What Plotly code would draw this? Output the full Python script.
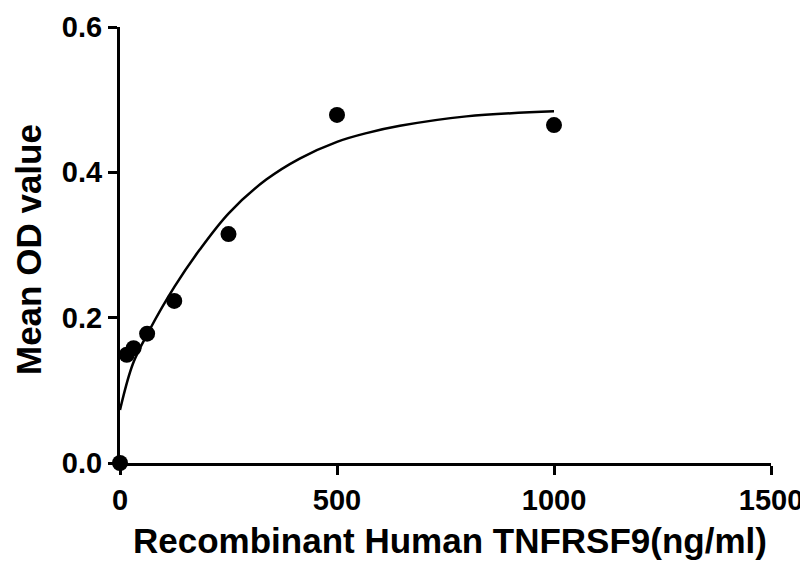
import plotly.graph_objects as go

# Measured points (concentration ng/ml, mean OD)
conc = [0, 15.6, 31.25, 62.5, 125, 250, 500, 1000]
od = [0.0, 0.149, 0.158, 0.178, 0.223, 0.315, 0.479, 0.465]

# Fitted curve
curve_x = [0, 30, 68, 126, 183, 251, 337, 414, 500, 568, 645, 798, 1000]
curve_y = [0.073, 0.137, 0.183, 0.243, 0.293, 0.344, 0.390, 0.419, 0.442, 0.454, 0.464, 0.477, 0.484]

x_ticks = [0, 500, 1000, 1500]
y_ticks = [0.0, 0.2, 0.4, 0.6]
y_tick_text = ["0.0", "0.2", "0.4", "0.6"]

x_title = "Recombinant Human TNFRSF9(ng/ml)"
y_title = "Mean OD value"

FONT = "Liberation Sans, Arial, sans-serif"

fig = go.Figure()
fig.add_trace(go.Scatter(
    x=curve_x, y=curve_y, mode="lines",
    line=dict(color="black", width=2.5, shape="spline"),
    hoverinfo="skip", showlegend=False, cliponaxis=False,
))
fig.add_trace(go.Scatter(
    x=conc, y=od, mode="markers",
    marker=dict(color="black", size=16),
    showlegend=False, cliponaxis=False,
))

fig.update_layout(
    width=800, height=553,
    margin=dict(l=112, r=37, t=19, b=98),
    paper_bgcolor="white", plot_bgcolor="white",
    font=dict(family=FONT, color="black", weight="bold"),
    xaxis=dict(
        range=[0, 1500], tickvals=x_ticks, ticktext=[str(v) for v in x_ticks],
        showgrid=False, zeroline=False, showline=True, linecolor="black", linewidth=3,
        ticks="outside", ticklen=9, tickwidth=2.5, tickcolor="black",
        tickfont=dict(size=29, family=FONT, weight="bold"),
        automargin=False,
    ),
    yaxis=dict(
        range=[0, 0.6], tickvals=y_ticks, ticktext=y_tick_text,
        showgrid=False, zeroline=False, showline=True, linecolor="black", linewidth=3,
        ticks="outside", ticklen=9, tickwidth=2.5, tickcolor="black",
        tickfont=dict(size=29, family=FONT, weight="bold"),
        automargin=False,
    ),
    annotations=[
        dict(text=x_title, xref="paper", yref="paper", x=0.5, y=0,
             xanchor="center", yanchor="middle", yshift=-77, xshift=4, showarrow=False,
             font=dict(size=35, family=FONT, weight="bold", color="black")),
        dict(text=y_title, xref="paper", yref="paper", x=0, y=0.5, textangle=-90,
             xanchor="center", yanchor="middle", xshift=-92, yshift=-5, showarrow=False,
             font=dict(size=35, family=FONT, weight="bold", color="black")),
    ],
)

fig.write_html("out.html")
